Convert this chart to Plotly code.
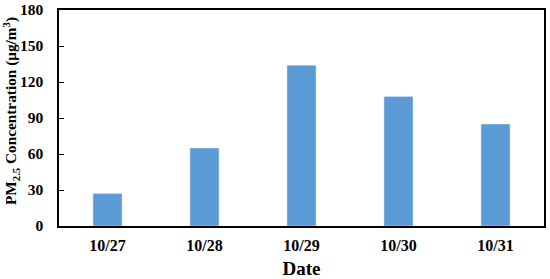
import plotly.graph_objects as go

dates = ["10/27", "10/28", "10/29", "10/30", "10/31"]
pm25 = [27, 65, 134, 108, 85]
y_ticks = [0, 30, 60, 90, 120, 150, 180]

font = dict(family="Liberation Serif", size=16, color="black")

fig = go.Figure()
fig.add_trace(go.Bar(x=dates, y=pm25, marker_color="#5B9BD5", width=0.3))

fig.update_layout(
    width=550, height=279,
    margin=dict(l=59, r=6, t=10, b=53),
    paper_bgcolor="white", plot_bgcolor="white",
    font=font, showlegend=False,
)
fig.update_xaxes(
    title_text="<b>Date</b>", title_standoff=17, automargin=False,
    tickvals=dates, ticktext=[f"<b>{d}</b>" for d in dates],
    showline=True, linecolor="black", linewidth=1.5, mirror=True,
    ticks="", ticklabelstandoff=4, showgrid=False,
)
fig.update_yaxes(
    automargin=False, ticklabeloverflow="allow",
    range=[0, 180], tickvals=y_ticks, ticktext=[f"<b>{v}</b>" for v in y_ticks],
    tickfont=dict(size=15.5),
    showline=True, linecolor="black", linewidth=1.5, mirror=True,
    ticks="inside", ticklen=5, tickcolor="black", showgrid=False, zeroline=False,
    ticklabelstandoff=11,
)
fig.add_annotation(
    text="<b>PM<sub>2.5</sub> Concentration (μg/m<sup>3</sup>)</b>",
    textangle=-90, showarrow=False,
    xref="paper", x=-0.1, xanchor="center",
    yref="paper", y=0.53, yanchor="middle",
    font=dict(family="Liberation Serif", size=15.3, color="black"),
)

# drop the default 8px body margin so the figure fills the window
fig.write_html("out.html", config={"displayModeBar": False},
               post_script="document.body.style.margin = '0';")
